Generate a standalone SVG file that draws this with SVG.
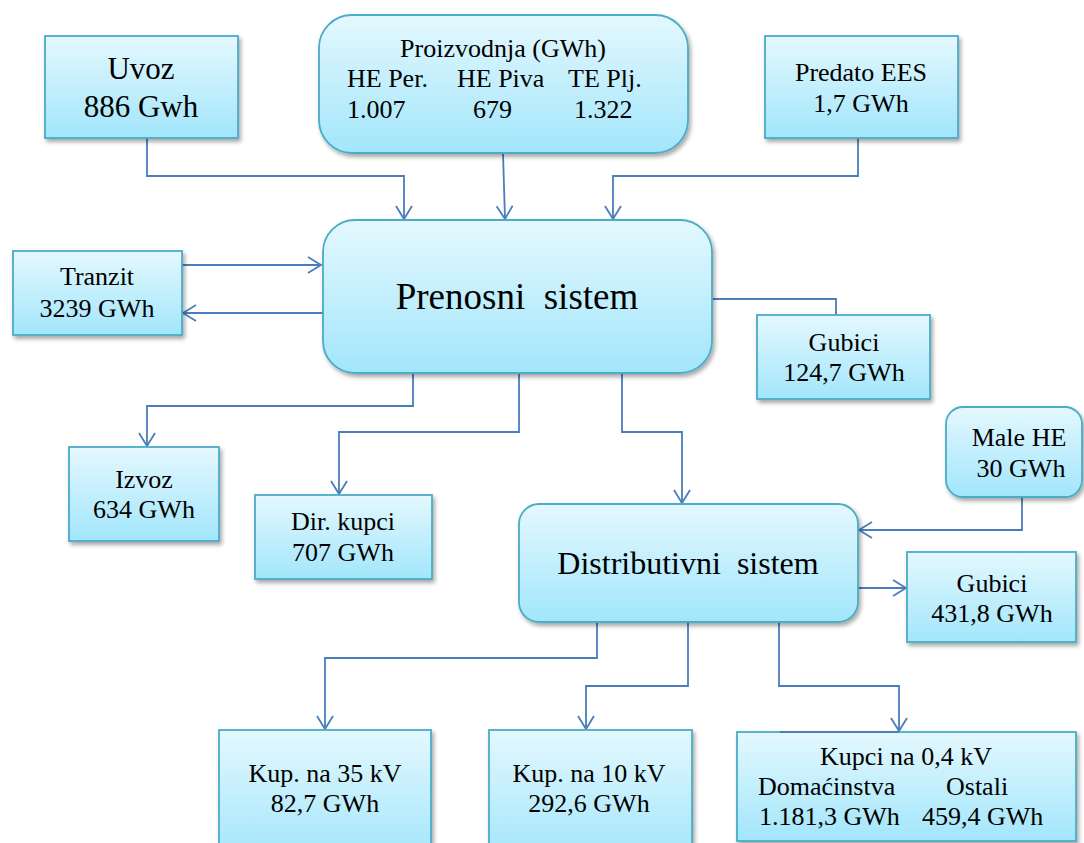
<svg xmlns="http://www.w3.org/2000/svg" width="1084" height="843" viewBox="0 0 1084 843">
<defs>
<linearGradient id="g" x1="0" y1="0" x2="0" y2="1">
<stop offset="0" stop-color="#e4f8fe"/>
<stop offset="1" stop-color="#a2e6fb"/>
</linearGradient>
<filter id="sh" x="-10%" y="-10%" width="125%" height="130%">
<feDropShadow dx="2" dy="3" stdDeviation="2.2" flood-color="#000" flood-opacity="0.35"/>
</filter>
<marker id="ah" markerUnits="userSpaceOnUse" markerWidth="20" markerHeight="20" viewBox="-14 -10 16 20" refX="0" refY="0" orient="auto">
<path d="M-13,-8 L0,0 L-13,8" fill="none" stroke="#4a7ebb" stroke-width="1.8"/>
</marker>
<style>
.box{fill:url(#g);stroke:#4bacc6;stroke-width:1.8;filter:url(#sh)}
.t{font-family:"Liberation Serif","Times New Roman",serif;font-size:26px;fill:#000}
.c{text-anchor:middle}
.con{fill:none;stroke:#4a7ebb;stroke-width:1.8}
</style>
</defs>
<rect width="1084" height="843" fill="#fff"/>

<g id="connectors">
<path class="con" d="M147,138 V176 H404 V219" marker-end="url(#ah)"/>
<path class="con" d="M503,153 L505,219" marker-end="url(#ah)"/>
<path class="con" d="M858,138 V176 H613 V219" marker-end="url(#ah)"/>
<path class="con" d="M180,265 H321" marker-end="url(#ah)"/>
<path class="con" d="M325,313 H183" marker-end="url(#ah)"/>
<path class="con" d="M712,299 H836 V315"/>
<path class="con" d="M413,373 V406 H147 V446" marker-end="url(#ah)"/>
<path class="con" d="M519,373 V432 H339 V494" marker-end="url(#ah)"/>
<path class="con" d="M622,373 V432 H682 V503" marker-end="url(#ah)"/>
<path class="con" d="M1022,497 V530 H859" marker-end="url(#ah)"/>
<path class="con" d="M858,588 H906" marker-end="url(#ah)"/>
<path class="con" d="M597,622 V658 H325 V729" marker-end="url(#ah)"/>
<path class="con" d="M688,622 V686 H586 V729" marker-end="url(#ah)"/>
<path class="con" d="M779,622 V686 H899 V731" marker-end="url(#ah)"/>
</g>

<g id="uvoz">
<rect class="box" x="45" y="36" width="193" height="102"/>
<text class="t c" x="141" y="79" style="font-size:31px">Uvoz</text>
<text class="t c" x="141" y="117" style="font-size:31px">886 Gwh</text>
</g>

<g id="proizvodnja">
<rect class="box" x="319" y="15" width="369" height="138" rx="33" ry="33"/>
<text class="t c" x="503" y="57">Proizvodnja (GWh)</text>
<text class="t" x="347" y="87">HE Per.</text>
<text class="t" x="457" y="87">HE Piva</text>
<text class="t" x="568" y="87">TE Plj.</text>
<text class="t" x="347" y="118">1.007</text>
<text class="t" x="473" y="118">679</text>
<text class="t" x="574" y="118">1.322</text>
</g>

<g id="predato">
<rect class="box" x="765" y="36" width="193" height="102"/>
<text class="t c" x="861" y="81">Predato EES</text>
<text class="t c" x="861" y="112">1,7 GWh</text>
</g>

<g id="prenosni">
<rect class="box" x="323" y="220" width="389" height="153" rx="32" ry="32"/>
<text class="t c" x="517" y="309" style="font-size:37px">Prenosni&#160; sistem</text>
</g>

<g id="tranzit">
<rect class="box" x="13" y="251" width="169" height="84"/>
<text class="t c" x="97" y="285">Tranzit</text>
<text class="t c" x="97" y="317">3239 GWh</text>
</g>

<g id="gubici1">
<rect class="box" x="757" y="315" width="173" height="84"/>
<text class="t c" x="844" y="351">Gubici</text>
<text class="t c" x="844" y="381">124,7 GWh</text>
</g>

<g id="izvoz">
<rect class="box" x="69" y="447" width="150" height="94"/>
<text class="t c" x="144" y="488">Izvoz</text>
<text class="t c" x="144" y="518">634 GWh</text>
</g>

<g id="dirkupci">
<rect class="box" x="255" y="495" width="177" height="84"/>
<text class="t c" x="343" y="530">Dir. kupci</text>
<text class="t c" x="343" y="561">707 GWh</text>
</g>

<g id="malehe">
<rect class="box" x="946" y="407" width="136" height="90" rx="17" ry="17"/>
<text class="t c" x="1019" y="446">Male HE</text>
<text class="t c" x="1021" y="477">30 GWh</text>
</g>

<g id="distributivni">
<rect class="box" x="519" y="504" width="339" height="118" rx="20" ry="20"/>
<text class="t c" x="688" y="574" style="font-size:32px">Distributivni&#160; sistem</text>
</g>

<g id="gubici2">
<rect class="box" x="907" y="552" width="169" height="90"/>
<text class="t c" x="992" y="592">Gubici</text>
<text class="t c" x="992" y="622">431,8 GWh</text>
</g>

<g id="kup35">
<rect class="box" x="219" y="730" width="212" height="130"/>
<text class="t c" x="325" y="782">Kup. na 35 kV</text>
<text class="t c" x="325" y="812">82,7 GWh</text>
</g>

<g id="kup10">
<rect class="box" x="489" y="730" width="203" height="130"/>
<text class="t c" x="589" y="782">Kup. na 10 kV</text>
<text class="t c" x="589" y="812">292,6 GWh</text>
</g>

<g id="kupci04">
<rect class="box" x="737" y="732" width="339" height="109"/>
<text class="t c" x="906" y="765">Kupci na 0,4 kV</text>
<text class="t" x="758" y="795">Domaćinstva</text>
<text class="t" x="946" y="795">Ostali</text>
<text class="t" x="759" y="825">1.181,3 GWh</text>
<text class="t" x="922" y="825">459,4 GWh</text>
</g>
<path class="con" d="M780,732 H899"/>
</svg>
